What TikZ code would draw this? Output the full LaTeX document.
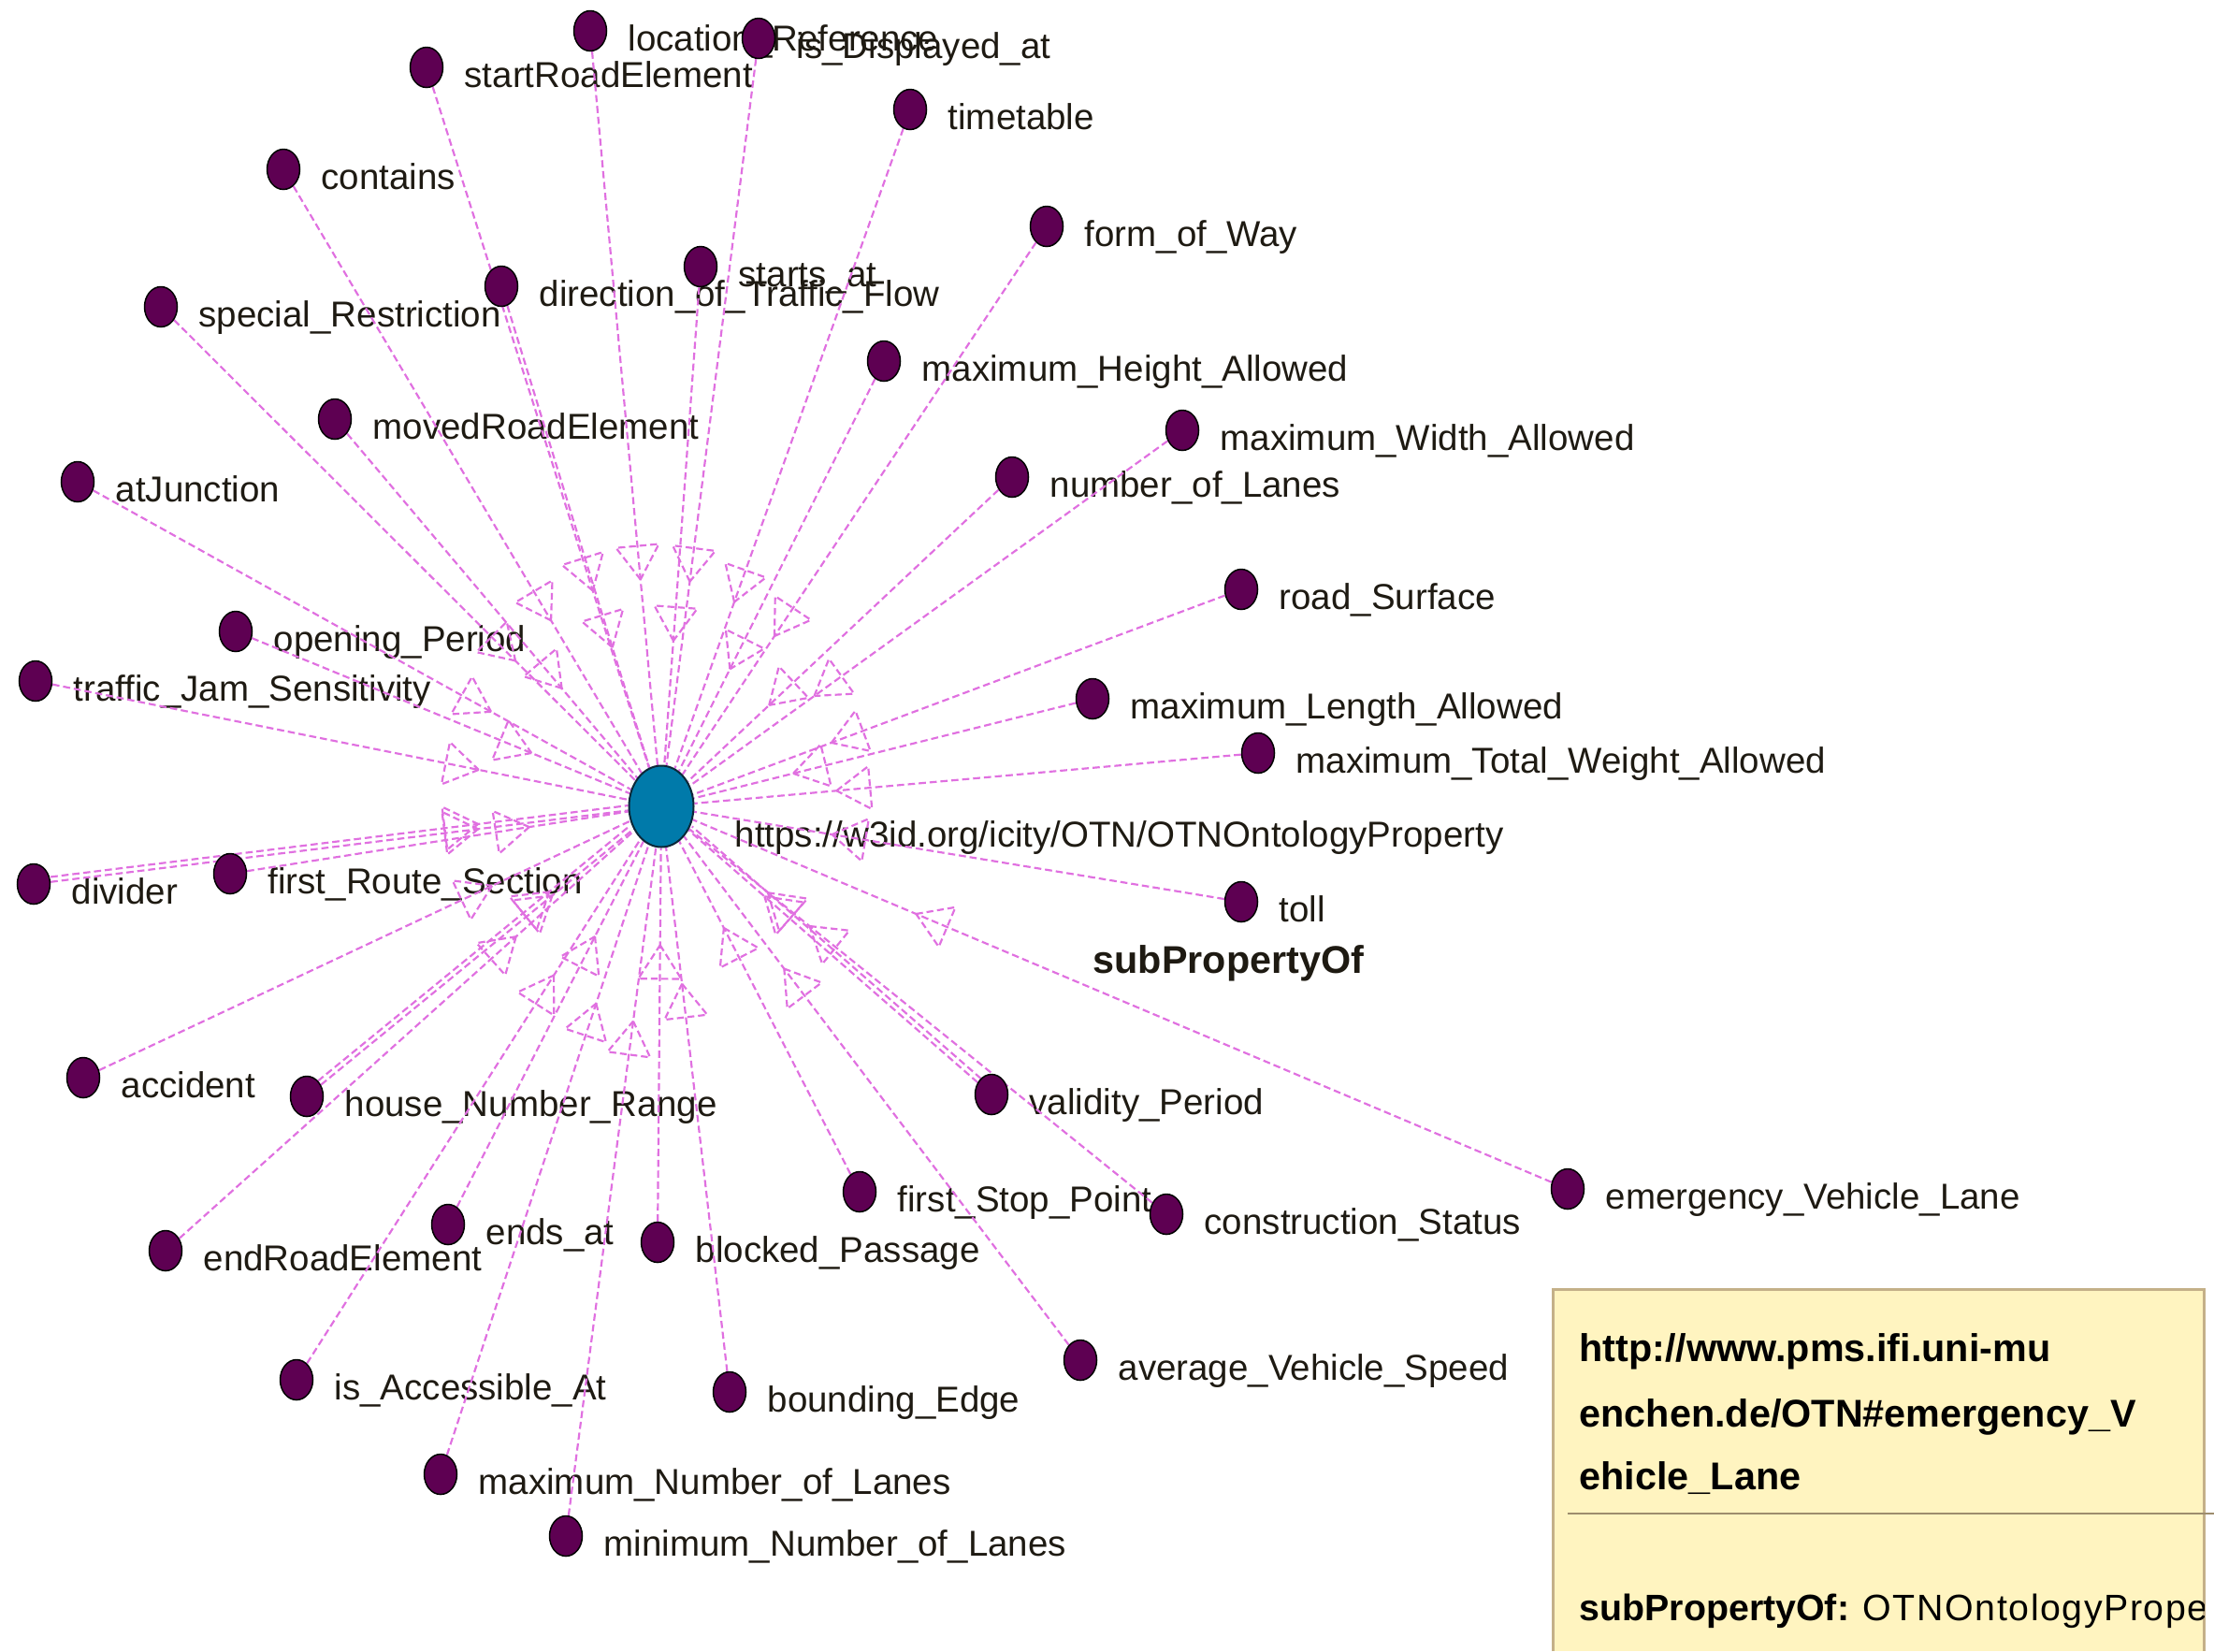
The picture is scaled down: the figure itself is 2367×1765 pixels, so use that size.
\documentclass[tikz,border=0pt]{standalone}
\usepackage{fontspec}
\setmainfont{Liberation Sans}
\usetikzlibrary{shapes.geometric,decorations.markings}

\definecolor{edgepink}{RGB}{224,112,224}
\definecolor{leaffill}{RGB}{94,0,82}
\definecolor{hubfill}{RGB}{0,122,170}
\definecolor{hubline}{RGB}{12,40,56}
\definecolor{txt}{RGB}{30,26,18}
\definecolor{tipfill}{RGB}{255,244,192}
\definecolor{tipline}{RGB}{196,176,136}

\pgfdeclarelayer{labels}
\pgfdeclarelayer{edges}
\pgfsetlayers{labels,edges,main}

\begin{document}
\begin{tikzpicture}[x=0.3pt,y=-0.3pt,
  leaf/.style={ellipse, draw=black, line width=0.45pt, fill=leaffill,
    minimum width=10.5pt, minimum height=12.9pt, inner sep=0pt},
  hub/.style={ellipse, draw=hubline, line width=0.6pt, fill=hubfill,
    minimum width=20.7pt, minimum height=26.1pt, inner sep=0pt},
  lbl/.style={anchor=base west, inner sep=0pt, text=txt,
    font=\fontsize{11.55pt}{13pt}\selectfont},
  tiptext/.style={anchor=base west, inner sep=0pt, text=black,
    font=\fontsize{12.4pt}{14pt}\selectfont\bfseries},
  tri/.style={draw=edgepink, line width=0.65pt, dash pattern=on 2.2pt off 1.2pt},
  edge/.style={draw=edgepink, line width=0.65pt, dash pattern=on 2.3pt off 1.2pt,
    postaction={decorate},
    decoration={markings, mark=at position 0.74 with
      {\draw[tri] (0,0) -- (-36,23) -- (-36,-23) -- cycle;}}}
]
\useasboundingbox (0,0) rectangle (2367,1765);

% central property
\node[hub] (hub) at (707,862) {};
\begin{pgfonlayer}{labels}
\node[lbl] (hub-l) at (785,905) {https://w3id.org/icity/OTN/OTNOntologyProperty};
\end{pgfonlayer}
\node[anchor=base west, inner sep=0pt, text=txt,
  font=\fontsize{12.4pt}{14pt}\selectfont\bfseries] (relname) at (1168,1040) {subPropertyOf};

% sub-properties with their labels
\foreach \id/\x/\y/\t in {
  locref/631/33/location\_Reference,
  isdisp/811/41/is\_Displayed\_at,
  startre/456/72/startRoadElement,
  timetbl/973/117/timetable,
  contains/303/181/contains,
  formway/1119/242/form\_of\_Way,
  specres/172/328/special\_Restriction,
  dirflow/536/306/direction\_of\_Traffic\_Flow,
  startsat/749/285/starts\_at,
  maxheight/945/386/maximum\_Height\_Allowed,
  movedre/358/448/movedRoadElement,
  maxwidth/1264/460/maximum\_Width\_Allowed,
  atjunc/83/515/atJunction,
  numlanes/1082/510/number\_of\_Lanes,
  roadsurf/1327/630/road\_Surface,
  openper/252/675/opening\_Period,
  trafjam/38/728/traffic\_Jam\_Sensitivity,
  maxlength/1168/747/maximum\_Length\_Allowed,
  maxweight/1345/805/maximum\_Total\_Weight\_Allowed,
  divider/36/945/divider,
  firstroute/246/934/first\_Route\_Section,
  toll/1327/964/toll,
  accident/89/1152/accident,
  housenum/328/1172/house\_Number\_Range,
  validity/1060/1170/validity\_Period,
  firststop/919/1274/first\_Stop\_Point,
  construct/1247/1298/construction\_Status,
  emergency/1676/1271/emergency\_Vehicle\_Lane,
  endre/177/1337/endRoadElement,
  endsat/479/1309/ends\_at,
  blocked/703/1328/blocked\_Passage,
  avgspeed/1155/1454/average\_Vehicle\_Speed,
  accessible/317/1475/is\_Accessible\_At,
  bounding/780/1488/bounding\_Edge,
  maxnum/471/1576/maximum\_Number\_of\_Lanes,
  minnum/605/1642/minimum\_Number\_of\_Lanes}{
  \node[leaf] (\id) at (\x,\y) {};
  \begin{pgfonlayer}{labels}
  \node[lbl] (\id-l) at (\x+40,\y+21) {\t};
  \end{pgfonlayer}
}

% subPropertyOf connectors
\begin{pgfonlayer}{edges}
\foreach \id in {locref,isdisp,startre,timetbl,contains,formway,specres,dirflow,
  startsat,maxheight,movedre,maxwidth,atjunc,numlanes,roadsurf,openper,trafjam,
  maxlength,maxweight,divider,firstroute,toll,accident,housenum,validity,firststop,
  construct,emergency,endre,endsat,blocked,avgspeed,accessible,bounding,maxnum,minnum}
  \draw[edge] (\id) -- (hub);
% doubled connectors
\draw[edge, transform canvas={yshift=1.6pt}] (divider) -- (hub);
\draw[edge, transform canvas={xshift=-1pt,yshift=1.2pt}] (housenum) -- (hub);
\draw[edge, transform canvas={xshift=1.1pt,yshift=1.2pt}] (validity) -- (hub);
\end{pgfonlayer}

% tooltip panel
\fill[tipfill] (1660,1378) rectangle (2356,1765);
\draw[tipline, line width=0.9pt] (1660,1765) -- (1660,1378) -- (2356,1378) -- (2356,1765);
\draw[tipline!80!black, line width=0.8pt] (1676,1618) -- (2367,1618);
\node[tiptext] (tip1) at (1688,1455) {http://www.pms.ifi.uni-mu};
\node[tiptext] (tip2) at (1688,1525) {enchen.de/OTN\#emergency\_V};
\node[tiptext] (tip3) at (1688,1592) {ehicle\_Lane};
\begin{scope}
\clip (1660,1378) rectangle (2356,1765);
\node[anchor=base west, inner sep=0pt, text=black,
  font=\fontsize{11.8pt}{14pt}\selectfont] (tip4) at (1688,1732)
  {\textbf{subPropertyOf:} {\addfontfeature{LetterSpace=4}OTNOntologyProperty}};
\end{scope}
\end{tikzpicture}
\end{document}
